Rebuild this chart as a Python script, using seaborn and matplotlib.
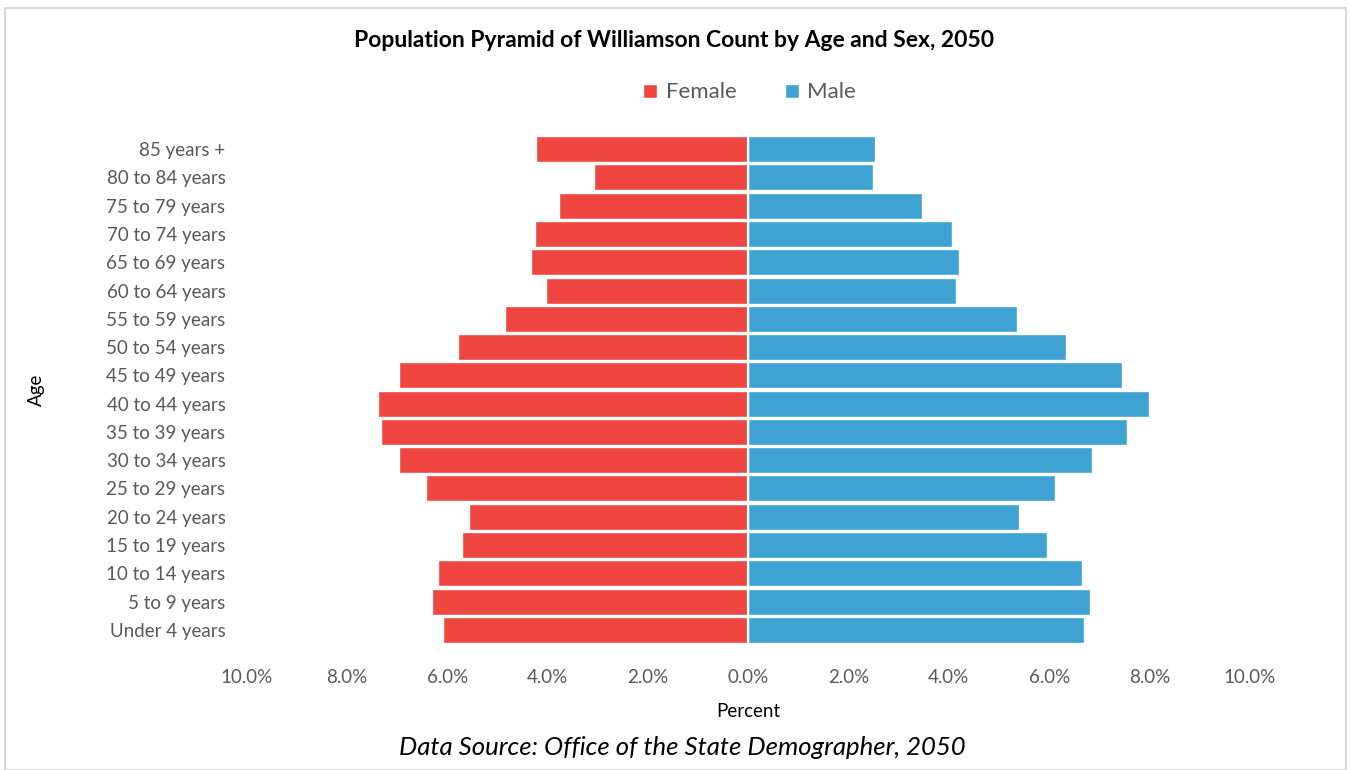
import matplotlib
matplotlib.use("Agg")
import matplotlib.pyplot as plt
import seaborn as sns
import pandas as pd
from matplotlib.patches import Patch, Rectangle
from matplotlib.ticker import FuncFormatter

ages = ["85 years +", "80 to 84 years", "75 to 79 years", "70 to 74 years",
        "65 to 69 years", "60 to 64 years", "55 to 59 years", "50 to 54 years",
        "45 to 49 years", "40 to 44 years", "35 to 39 years", "30 to 34 years",
        "25 to 29 years", "20 to 24 years", "15 to 19 years", "10 to 14 years",
        "5 to 9 years", "Under 4 years"]
female = [4.23, 3.07, 3.77, 4.25, 4.34, 4.04, 4.86, 5.80, 6.96,
          7.39, 7.32, 6.96, 6.43, 5.58, 5.71, 6.19, 6.30, 6.09]
male = [2.53, 2.48, 3.47, 4.07, 4.20, 4.15, 5.36, 6.33, 7.46,
        8.00, 7.56, 6.86, 6.11, 5.40, 5.96, 6.65, 6.81, 6.70]
xticks = [-10, -8, -6, -4, -2, 0, 2, 4, 6, 8, 10]

FEMALE_C = "#EF4641"
MALE_C = "#3EA2D3"

sns.set_theme(style="white")
plt.rcParams['font.family'] = ['Lato', 'DejaVu Sans']

df = pd.DataFrame({
    "Age": ages * 2,
    "Percent": [-v for v in female] + male,
    "Sex": ["Female"] * len(ages) + ["Male"] * len(ages),
})

fig = plt.figure(figsize=(13.51, 7.70), dpi=100)
ax = fig.add_axes([0.1828, 0.1636, 0.7422, 0.6611])

sns.barplot(data=df, x="Percent", y="Age", hue="Sex", order=ages,
            palette={"Female": FEMALE_C, "Male": MALE_C},
            dodge=False, width=0.92, saturation=1, ax=ax, legend=False)

ax.set_xlim(-10, 10)
ax.set_xticks(xticks)
ax.xaxis.set_major_formatter(FuncFormatter(lambda v, p: f"{abs(v):.1f}%"))
ax.axvline(0, color="white", lw=1.6)
for s in ax.spines.values():
    s.set_visible(False)
ax.tick_params(axis="x", length=0, pad=18, labelsize=13.5, labelcolor="#595959")
ax.tick_params(axis="y", length=0, pad=15.5, labelsize=13.5, labelcolor="#595959")
ax.set_xlabel("Percent", fontsize=13.5, color="#000000", labelpad=12)
ax.set_ylabel("Age", fontsize=13.5, color="#000000")
ax.yaxis.set_label_coords(-0.2014, 0.5)

fig.text(0.499, 0.948, "Population Pyramid of Williamson Count by Age and Sex, 2050",
         ha="center", va="center", fontsize=16.5, fontweight="bold", color="#000000")

handles = [Patch(facecolor=FEMALE_C, label="Female"),
           Patch(facecolor=MALE_C, label="Male")]
fig.legend(handles=handles, loc="center", bbox_to_anchor=(0.555, 0.88), ncol=2,
           frameon=False, fontsize=16, handlelength=0.6, handleheight=0.6,
           handletextpad=0.4, columnspacing=2.2, labelcolor="#595959")

fig.text(0.505, 0.029, "Data Source: Office of the State Demographer, 2050",
         ha="center", va="center", fontsize=18.5, style="italic", color="#000000")

fig.patches.append(Rectangle((0.004, 0.0), 0.992, 0.99, transform=fig.transFigure,
                             fill=False, edgecolor="#D9D9D9", lw=1.5))

fig.savefig("out.png", dpi=100)
